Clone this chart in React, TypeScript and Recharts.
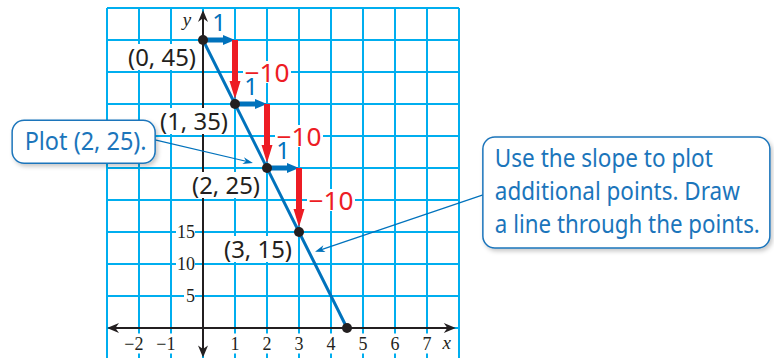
import React from 'react';
import { ComposedChart, XAxis, YAxis, Line, Scatter, ReferenceLine, ReferenceDot } from 'recharts';

// ---------- data ----------
const xDomain = [-3, 8];
const yDomain = [-5, 50];
const gridXValues = [-3, -2, -1, 0, 1, 2, 3, 4, 5, 6, 7, 8];
const gridYValues = [-5, 0, 5, 10, 15, 20, 25, 30, 35, 40, 45, 50];
const xTickValues = [-2, -1, 1, 2, 3, 4, 5, 6, 7];
const xTickLabels = ['\u22122', '\u22121', '1', '2', '3', '4', '5', '6', '7'];
const yTickValues = [5, 10, 15];
const yTickLabels = ['5', '10', '15'];
const xAxisExtent = [-3, 7.9];
const yAxisExtent = [-4.6, 49.7];

const lineX = [0, 4.5];
const lineY = [45, 0];

const pointX = [0, 1, 2, 3, 4.5];
const pointY = [45, 35, 25, 15, 0];
const pointLabels = ['(0, 45)', '(1, 35)', '(2, 25)', '(3, 15)', ''];

const stepStartX = [0, 1, 2];
const stepStartY = [45, 35, 25];
const runValue = 1;
const riseValue = -10;
const runLabels = ['1', '1', '1'];
const riseLabels = ['\u221210', '\u221210', '\u221210'];

const callout1Lines = ['Plot (2, 25).'];
const callout1Anchor = [-3.73, 29.1];
const callout1Leader = [[-1.5, 29.4], [1.56, 25.8]];
const callout2Lines = ['Use the slope to plot', 'additional points. Draw', 'a line through the points.'];
const callout2Anchor = [13.23, 21.17];
const callout2Leader = [[8.75, 20.8], [3.5, 11.9]];

// ---------- styles ----------
const GRID = '#00AEEF';
const LINE = '#0072BC';
const RED = '#ED1C24';
const INK = '#231F20';
const CALLOUT = '#1B75BB';
const SANS = '"Noto Sans", "Open Sans", sans-serif';
const SERIF = '"Liberation Serif", "DejaVu Serif", serif';
const callout1Widths = [122];
const callout2Widths = [218, 245, 265];

// block arrow from (x1,y1) to (x2,y2)
const blockArrow = (color: string, shaft: number, headL: number, headW: number, trimEnd: number) => (p: any) => {
  const { x1, y1, x2, y2 } = p;
  const dx = x2 - x1;
  const dy = y2 - y1;
  const len = Math.sqrt(dx * dx + dy * dy) || 1;
  const ux = dx / len;
  const uy = dy / len;
  const nx = -uy;
  const ny = ux;
  const tx = x2 - ux * trimEnd;
  const ty = y2 - uy * trimEnd;
  const bx = tx - ux * headL;
  const by = ty - uy * headL;
  const s = shaft / 2;
  const h = headW / 2;
  const pts = [
    [x1 + nx * s, y1 + ny * s],
    [bx + nx * s, by + ny * s],
    [bx + nx * h, by + ny * h],
    [tx, ty],
    [bx - nx * h, by - ny * h],
    [bx - nx * s, by - ny * s],
    [x1 - nx * s, y1 - ny * s],
  ];
  return <polygon points={pts.map((q) => q.join(',')).join(' ')} fill={color} />;
};

const barbHead = (tx: number, ty: number, ux: number, uy: number, L: number, W: number, color: string, key: string) => {
  const nx = -uy;
  const ny = ux;
  const bx = tx - ux * L;
  const by = ty - uy * L;
  const nxx = tx - ux * L * 0.7;
  const nyy = ty - uy * L * 0.7;
  const pts = [
    [tx, ty],
    [bx + nx * W, by + ny * W],
    [nxx, nyy],
    [bx - nx * W, by - ny * W],
  ];
  return <polygon key={key} points={pts.map((q) => q.join(',')).join(' ')} fill={color} />;
};

// thin line with barbed head(s)
const thinArrow = (color: string, width: number, L: number, W: number, both: boolean) => (p: any) => {
  const { x1, y1, x2, y2 } = p;
  const dx = x2 - x1;
  const dy = y2 - y1;
  const len = Math.sqrt(dx * dx + dy * dy) || 1;
  const ux = dx / len;
  const uy = dy / len;
  return (
    <g>
      <line
        x1={both ? x1 + ux * L * 0.6 : x1}
        y1={both ? y1 + uy * L * 0.6 : y1}
        x2={x2 - ux * L * 0.6}
        y2={y2 - uy * L * 0.6}
        stroke={color}
        strokeWidth={width}
      />
      {barbHead(x2, y2, ux, uy, L, W, color, 'e')}
      {both ? barbHead(x1, y1, -ux, -uy, L, W, color, 's') : null}
    </g>
  );
};

const boxedText = (
  text: string,
  opts: { dx: number; dy: number; size: number; color: string; family: string; anchor?: string; bgW?: number; bgH?: number; italic?: boolean; weight?: number; len?: number }
) => (p: any) => {
  const { cx, cy } = p;
  const x = cx + opts.dx;
  const y = cy + opts.dy;
  const anchor = opts.anchor || 'middle';
  let rx = x - (opts.bgW || 0) / 2;
  if (anchor === 'end') rx = x - (opts.bgW || 0);
  if (anchor === 'start') rx = x;
  return (
    <g>
      {opts.bgW ? <rect x={rx} y={y - (opts.bgH || 0) / 2} width={opts.bgW} height={opts.bgH} fill="#fff" /> : null}
      <text
        x={x}
        y={y}
        textAnchor={anchor as any}
        dominantBaseline="central"
        fontSize={opts.size}
        fontFamily={opts.family}
        fontStyle={opts.italic ? 'italic' : 'normal'}
        fontWeight={opts.weight || 400}
        fill={opts.color}
        {...(opts.len ? { textLength: opts.len, lengthAdjust: 'spacingAndGlyphs' } : {})}
      >
        {text}
      </text>
    </g>
  );
};

const calloutBox = (lines: string[], widths: number[], w: number, h: number, size: number, lineGap: number, firstBase: number, align: 'start' | 'middle', id: string) => (p: any) => {
  const { cx, cy } = p;
  const left = cx - w / 2;
  const top = cy - h / 2;
  const tx = align === 'middle' ? cx + 2 : left + 12;
  return (
    <g>
      <defs>
        <filter id={id} x="-10%" y="-20%" width="130%" height="150%">
          <feDropShadow dx="2" dy="2.5" stdDeviation="2" floodColor="#000" floodOpacity="0.22" />
        </filter>
      </defs>
      <rect x={left} y={top} width={w} height={h} rx={12} ry={12} fill="#fff" stroke={CALLOUT} strokeWidth={1.5} filter={`url(#${id})`} />
      {lines.map((t, i) => (
        <text
          key={i}
          x={tx}
          y={top + firstBase + i * lineGap}
          textAnchor={align}
          fontSize={size}
          fontFamily={SANS}
          fill={CALLOUT}
          textLength={widths[i]}
          lengthAdjust="spacingAndGlyphs"
        >
          {t}
        </text>
      ))}
    </g>
  );
};

const digitWidth = (t: string) => t.length * 8 + 2;

export default function App() {
  const lineData = lineX.map((x, i) => ({ x, y: lineY[i] }));
  const pointData = pointX.map((x, i) => ({ x, y: pointY[i] }));

  return (
    <div style={{ position: 'absolute', left: 0, top: 0, width: 774, height: 358, overflow: 'hidden', background: '#fff' }}>
      <ComposedChart width={774} height={362} data={lineData} margin={{ top: 8, right: 315, bottom: 2, left: 107 }}>
        <XAxis type="number" dataKey="x" domain={xDomain} ticks={gridXValues} hide allowDataOverflow />
        <YAxis type="number" dataKey="y" domain={yDomain} ticks={gridYValues} hide allowDataOverflow />

        {gridXValues.map((v) => (
          <ReferenceLine key={'gx' + v} x={v} stroke={GRID} strokeWidth={2} ifOverflow="visible" />
        ))}
        {gridYValues.map((v) => (
          <ReferenceLine key={'gy' + v} y={v} stroke={GRID} strokeWidth={2} ifOverflow="visible" />
        ))}

        <ReferenceLine
          segment={[{ x: xAxisExtent[0], y: 0 }, { x: xAxisExtent[1], y: 0 }]}
          ifOverflow="visible"
          shape={thinArrow(INK, 2, 12, 5, true)}
        />
        <ReferenceLine
          segment={[{ x: 0, y: yAxisExtent[0] }, { x: 0, y: yAxisExtent[1] }]}
          ifOverflow="visible"
          shape={thinArrow(INK, 2, 12, 5, true)}
        />

        {xTickValues.map((v, i) => (
          <ReferenceDot
            key={'xt' + v}
            x={v}
            y={0}
            r={0}
            ifOverflow="visible"
            shape={boxedText(xTickLabels[i], { dx: 4.5, dy: 15.5, size: 18, color: INK, family: SERIF, anchor: 'end', bgW: digitWidth(xTickLabels[i]) + 1, bgH: 20 })}
          />
        ))}
        {yTickValues.map((v, i) => (
          <ReferenceDot
            key={'yt' + v}
            x={0}
            y={v}
            r={0}
            ifOverflow="visible"
            shape={boxedText(yTickLabels[i], { dx: -8, dy: 0, size: 18, color: INK, family: SERIF, anchor: 'end', bgW: digitWidth(yTickLabels[i]) + 1, bgH: 16 })}
          />
        ))}
        <ReferenceDot x={0} y={yAxisExtent[1]} r={0} ifOverflow="visible" shape={boxedText('y', { dx: -16, dy: 10, size: 19, color: INK, family: SERIF, italic: true })} />
        <ReferenceDot x={xAxisExtent[1]} y={0} r={0} ifOverflow="visible" shape={boxedText('x', { dx: -9, dy: 14, size: 19, color: INK, family: SERIF, italic: true })} />

        {pointX.map((x, i) =>
          pointLabels[i] ? (
            <ReferenceDot
              key={'pl' + i}
              x={x}
              y={pointY[i]}
              r={0}
              ifOverflow="visible"
              shape={boxedText(pointLabels[i], { dx: -41, dy: 17, size: 23, color: INK, family: SANS, bgW: 74, bgH: 26, len: 68 })}
            />
          ) : null
        )}
        {stepStartX.map((x, i) => (
          <ReferenceDot
            key={'rl' + i}
            x={x + runValue}
            y={stepStartY[i] + riseValue / 2}
            r={0}
            ifOverflow="visible"
            shape={boxedText(riseLabels[i], { dx: 32, dy: 0, size: 25, color: RED, family: SANS, bgW: 48, bgH: 22, len: 45 })}
          />
        ))}

        <Line data={lineData} dataKey="y" stroke={LINE} strokeWidth={3} dot={false} activeDot={false} isAnimationActive={false} />

        {stepStartX.map((x, i) => (
          <ReferenceLine
            key={'run' + i}
            segment={[{ x, y: stepStartY[i] }, { x: x + runValue, y: stepStartY[i] }]}
            ifOverflow="visible"
            shape={blockArrow(LINE, 5, 12, 10, 0)}
          />
        ))}
        {stepStartX.map((x, i) => (
          <ReferenceLine
            key={'rise' + i}
            segment={[{ x: x + runValue, y: stepStartY[i] }, { x: x + runValue, y: stepStartY[i] + riseValue }]}
            ifOverflow="visible"
            shape={blockArrow(RED, 6, 18, 11, 5)}
          />
        ))}
        {stepStartX.map((x, i) => (
          <ReferenceDot
            key={'runl' + i}
            x={x}
            y={stepStartY[i]}
            r={0}
            ifOverflow="visible"
            shape={boxedText(runLabels[i], { dx: 16, dy: -19, size: 24, color: LINE, family: SANS })}
          />
        ))}

        <Scatter
          data={pointData}
          dataKey="y"
          isAnimationActive={false}
          shape={(p: any) => <circle cx={p.cx} cy={p.cy} r={5} fill={INK} />}
        />

        <ReferenceLine
          segment={[{ x: callout1Leader[0][0], y: callout1Leader[0][1] }, { x: callout1Leader[1][0], y: callout1Leader[1][1] }]}
          ifOverflow="visible"
          shape={thinArrow(LINE, 1.2, 10, 3.5, false)}
        />
        <ReferenceLine
          segment={[{ x: callout2Leader[0][0], y: callout2Leader[0][1] }, { x: callout2Leader[1][0], y: callout2Leader[1][1] }]}
          ifOverflow="visible"
          shape={thinArrow(LINE, 1.2, 10, 3.5, false)}
        />
        <ReferenceDot
          x={callout1Anchor[0]}
          y={callout1Anchor[1]}
          r={0}
          ifOverflow="visible"
          shape={calloutBox(callout1Lines, callout1Widths, 143, 43, 25, 0, 30, 'middle', 'sh1')}
        />
        <ReferenceDot
          x={callout2Anchor[0]}
          y={callout2Anchor[1]}
          r={0}
          ifOverflow="visible"
          shape={calloutBox(callout2Lines, callout2Widths, 287, 111, 25, 33, 30, 'start', 'sh2')}
        />
      </ComposedChart>
    </div>
  );
}
